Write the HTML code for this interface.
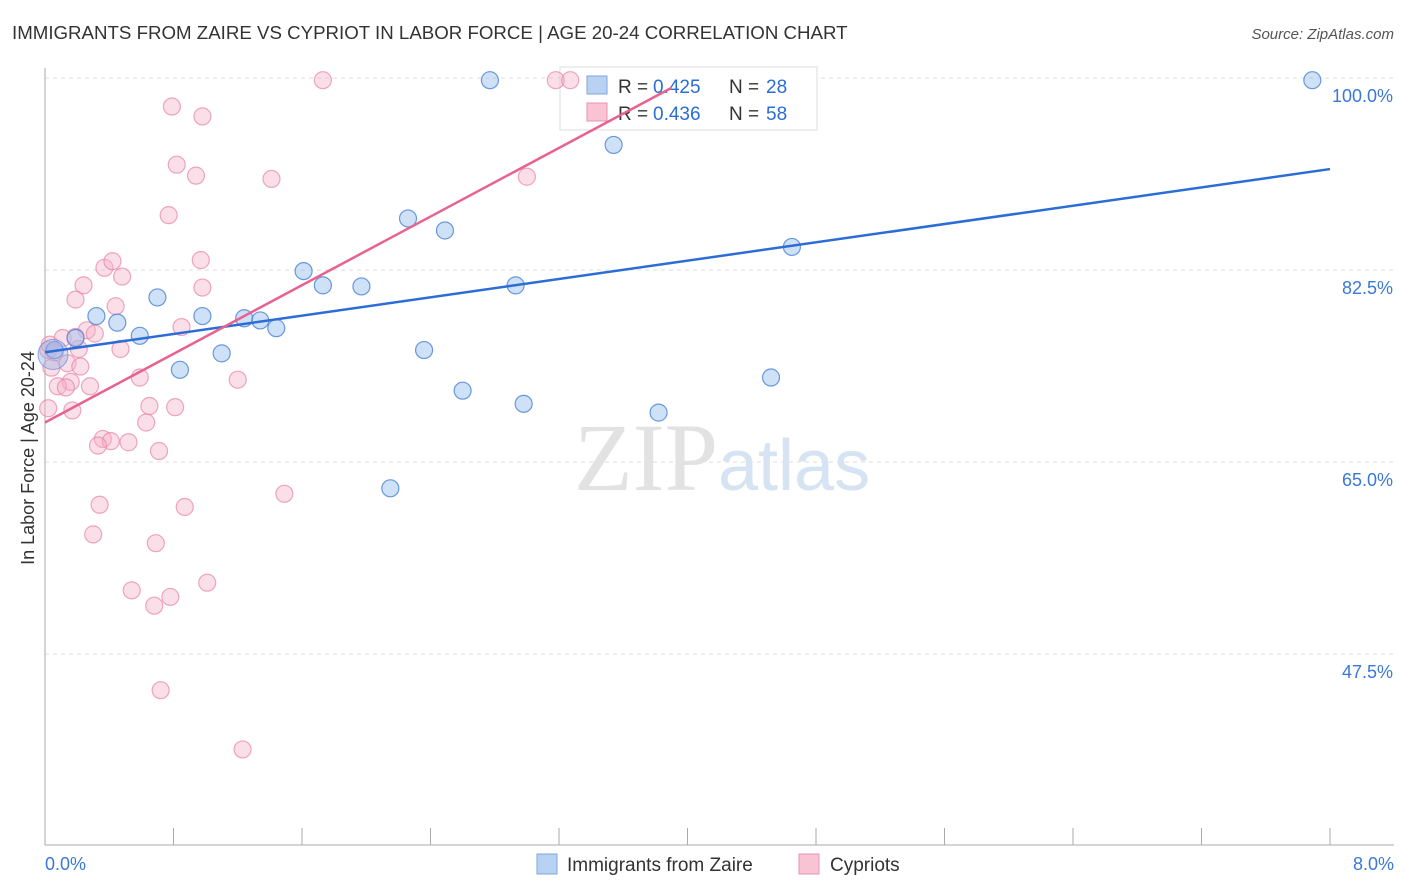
<!DOCTYPE html>
<html><head><meta charset="utf-8"><style>
body{margin:0;background:#fff;font-family:"Liberation Sans",sans-serif}
svg{display:block}
</style></head><body>
<svg id="c" width="1406" height="892">
<text x="12" y="39" font-size="18.7" fill="#333">IMMIGRANTS FROM ZAIRE VS CYPRIOT IN LABOR FORCE | AGE 20-24 CORRELATION CHART</text>
<text x="1394" y="39" font-size="15" fill="#555" font-style="italic" text-anchor="end">Source: ZipAtlas.com</text>
<text x="34" y="458" font-size="18" fill="#333" text-anchor="middle" transform="rotate(-90 34 458)">In Labor Force | Age 20-24</text>
<g id="grid"></g>
<g><text x="718" y="490" font-size="96" fill="#e2e2e2" text-anchor="end" font-family="Liberation Serif,serif">ZIP</text><text x="718" y="490" font-size="72" fill="#d6e3f3">atlas</text></g>
<g>
<rect x="560" y="67" width="257" height="63" fill="#fff" stroke="#ddd"/>
<rect x="587" y="76" width="20" height="18" fill="#b9d2f3" stroke="#7fa7de"/>
<rect x="587" y="103" width="20" height="18" fill="#f8c4d4" stroke="#ea92ad"/>
<text x="618" y="93" font-size="19" fill="#333">R =</text><text x="653" y="93" font-size="19" fill="#2b6dd6">0.425</text>
<text x="729" y="93" font-size="19" fill="#333">N =</text><text x="766" y="93" font-size="19" fill="#2b6dd6">28</text>
<text x="618" y="120" font-size="19" fill="#333">R =</text><text x="653" y="120" font-size="19" fill="#2b6dd6">0.436</text>
<text x="729" y="120" font-size="19" fill="#333">N =</text><text x="766" y="120" font-size="19" fill="#2b6dd6">58</text>
</g>
<g id="marks"></g>
<g>
<rect x="537" y="854" width="20" height="20" fill="#b9d2f3" stroke="#7fa7de"/>
<text x="567" y="871" font-size="19" fill="#333">Immigrants from Zaire</text>
<rect x="799" y="854" width="20" height="20" fill="#f8c4d4" stroke="#ea92ad"/>
<text x="830" y="871" font-size="19" fill="#333">Cypriots</text>
</g>
</svg>
<script>
const blueX=[2.77,7.89,3.54,2.26,2.49,4.65,1.61,1.73,1.97,2.93,0.70,0.32,0.45,0.98,1.24,1.34,1.44,0.59,0.19,1.10,2.36,0.06,0.84,2.60,2.98,3.82,4.52,2.15];
const blueY=[99.8,99.8,93.9,87.2,86.1,84.6,82.4,81.1,81.0,81.1,80.0,78.3,77.7,78.3,78.1,77.9,77.2,76.5,76.3,74.9,75.2,75.2,73.4,71.5,70.3,69.5,72.7,62.6];
const pinkX=[1.73,3.18,3.27,0.79,0.98,0.82,0.94,1.41,3.00,0.77,0.97,0.37,0.42,0.48,0.24,0.98,0.19,0.44,0.85,0.26,0.31,0.11,0.19,0.47,0.21,0.02,0.14,0.22,0.04,0.59,1.20,0.16,0.28,0.08,0.13,0.65,0.81,0.17,0.02,0.63,0.36,0.41,0.33,0.52,0.71,1.49,0.34,0.87,0.30,0.69,1.01,0.54,0.78,0.68,0.72,1.23,0.06,0.03];
const pinkY=[99.8,99.8,99.8,97.4,96.5,92.1,91.1,90.8,91.0,87.5,83.4,82.7,83.3,81.9,81.1,80.9,79.8,79.2,77.3,77.0,76.7,76.3,76.4,75.3,75.3,75.2,74.0,73.7,73.6,72.7,72.5,72.3,71.9,71.9,71.8,70.1,70.0,69.7,69.9,68.6,67.1,66.9,66.5,66.8,66.0,62.1,61.1,60.9,58.4,57.6,54.0,53.3,52.7,51.9,44.2,38.8,75.0,75.7];
const blueLine=[75.0,91.7];
const pinkLine=[68.6,99.1];
const pinkLineEndX=3.9;
const yTicks=[100,82.5,65,47.5];
const yTickLabels=["100.0%","82.5%","65.0%","47.5%"];
const NS="http://www.w3.org/2000/svg";
const X=v=>45+v/8*1285, Y=v=>78+(100-v)*10.971;
function mk(tag,at,parent){const e=document.createElementNS(NS,tag);for(const k in at)e.setAttribute(k,at[k]);parent.appendChild(e);return e;}
const g=document.getElementById('grid'), m=document.getElementById('marks');
yTicks.forEach((t,i)=>{
 const l=mk('line',{x1:45,x2:1394,y1:Y(t),y2:Y(t),stroke:'#ddd','stroke-dasharray':'4,4'},g);
 
 
 const tx=mk('text',{x:1393,y:Y(t)+24,'font-size':18,fill:'#3a78d8','text-anchor':'end'},g);
 tx.textContent=yTickLabels[i];
 
 
});
const ax=mk('line',{x1:45,x2:45,y1:68,y2:845,stroke:'#aaa'},g);


const bx=mk('line',{x1:45,x2:1394,y1:845,y2:845,stroke:'#aaa'},g);


for(let i=1;i<=10;i++){const t=mk('line',{x1:45+i*128.5,x2:45+i*128.5,y1:828,y2:845,stroke:'#aaa'},g);
 
 }
[[0,"0.0%",'start',45],[8,"8.0%",'end',1394]].forEach(a=>{const t=mk('text',{x:a[3],y:870,'font-size':18,fill:'#3a78d8','text-anchor':a[2]},g);t.textContent=a[1];
 
 });
pinkX.forEach((x,i)=>{const c=mk('circle',{cx:X(x),cy:Y(pinkY[i]),r:8.5,fill:'rgba(246,175,198,0.4)',stroke:'rgba(232,130,165,0.7)','stroke-width':1.2},m);
 
 });
blueX.forEach((x,i)=>{const c=mk('circle',{cx:X(x),cy:Y(blueY[i]),r:8.5,fill:'rgba(160,195,240,0.5)',stroke:'rgba(70,130,215,0.8)','stroke-width':1.2},m);
 
 });
const big=mk('circle',{cx:X(0.05),cy:Y(74.8),r:15,fill:'rgba(160,180,230,0.45)',stroke:'rgba(100,140,215,0.7)'},m);


const bl=mk('line',{x1:X(0),y1:Y(blueLine[0]),x2:X(8),y2:Y(blueLine[1]),stroke:'#2b6dd6','stroke-width':2.5},m);


const pl=mk('line',{x1:X(0),y1:Y(pinkLine[0]),x2:X(pinkLineEndX),y2:Y(pinkLine[1]),stroke:'#e8628f','stroke-width':2.5},m);


</script>
</body></html>
